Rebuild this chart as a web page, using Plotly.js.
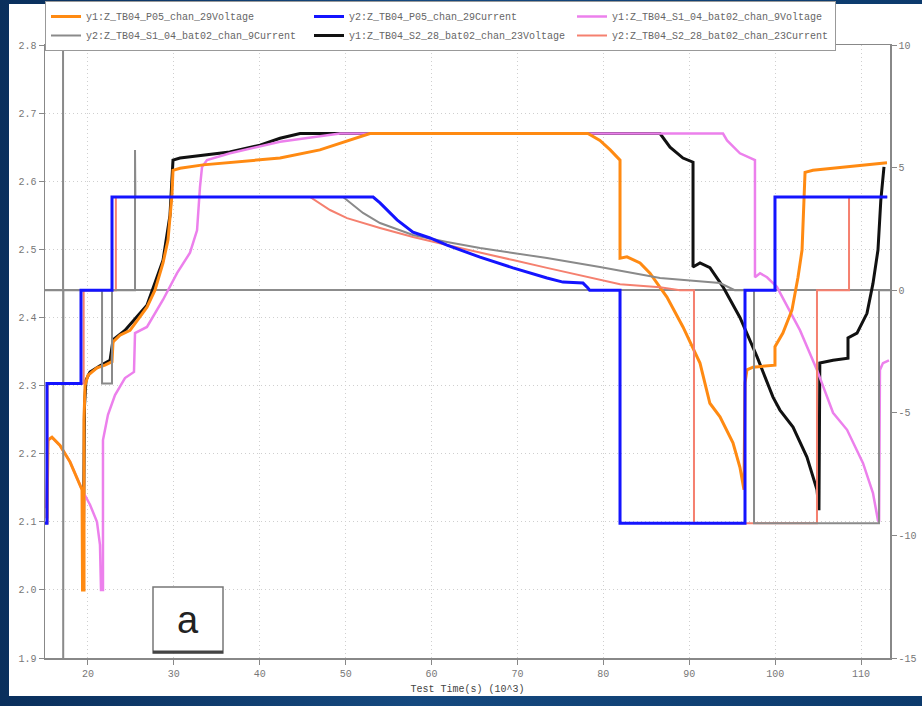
<!DOCTYPE html>
<html>
<head>
<meta charset="utf-8">
<script src="https://cdn.plot.ly/plotly-3.0.1.min.js"></script>
<style>
  html, body { margin: 0; padding: 0; }
  body {
    width: 922px; height: 706px; overflow: hidden;
    background: linear-gradient(90deg, #0a2f5c 0%, #15497f 45%, #0c3a6c 100%);
  }
  #chart { width: 922px; height: 706px; }
</style>
</head>
<body>
<div id="chart"></div>
<script>
// Test time (x10^3 s) and cell voltage (V) / current (A) per channel

// y1: Z_TB04_P05_chan_29 voltage
const p05Time = [15.23, 15.35, 15.81, 16.75, 17.91, 19.31, 19.37, 19.54, 19.54, 19.66, 20.0, 21.05, 21.98, 22.8, 22.92, 23.73, 24.9, 26.87, 27.8, 28.74, 29.32, 29.55, 29.78, 29.9, 30.72, 33.4, 42.36, 47.0, 50.5, 52.83, 78.2, 79.6, 80.8, 81.94, 81.94, 82.75, 84.27, 85.43, 87.4, 89.27, 91.25, 92.4, 93.58, 95.09, 95.9, 96.37, 96.49, 96.72, 97.42, 99.98, 99.98, 100.9, 101.96, 102.66, 103.13, 103.48, 104.4, 113.02];
const p05Voltage = [2.105, 2.22, 2.224, 2.212, 2.188, 2.147, 2.0, 2.0, 2.249, 2.30, 2.315, 2.326, 2.33, 2.335, 2.364, 2.374, 2.381, 2.415, 2.44, 2.48, 2.514, 2.543, 2.58, 2.616, 2.619, 2.624, 2.634, 2.646, 2.66, 2.67, 2.67, 2.66, 2.646, 2.631, 2.487, 2.489, 2.48, 2.465, 2.43, 2.386, 2.333, 2.274, 2.254, 2.216, 2.18, 2.147, 2.304, 2.323, 2.327, 2.33, 2.357, 2.377, 2.411, 2.459, 2.499, 2.613, 2.616, 2.627];

// y2: Z_TB04_P05_chan_29 current
const p05CurTime = [15.0, 15.23, 15.23, 19.19, 19.19, 22.8, 22.8, 53.2, 54.0, 55.98, 57.84, 59.82, 61.8, 65.64, 69.48, 71.46, 73.44, 75.3, 77.63, 78.2, 78.4, 81.94, 81.94, 96.49, 96.49, 99.98, 99.98, 113.05];
const p05Current = [-9.5, -9.5, -3.8, -3.8, 0, 0, 3.8, 3.8, 3.56, 2.87, 2.37, 2.13, 1.84, 1.35, 0.91, 0.70, 0.50, 0.33, 0.29, 0.09, 0, 0, -9.5, -9.5, 0, 0, 3.8, 3.8];

// y1: Z_TB04_S1_04_bat02_chan_9 voltage
const s1Time = [15.15, 15.35, 15.81, 16.75, 17.91, 19.31, 20.24, 21.05, 21.4, 21.52, 21.75, 21.75, 22.33, 23.15, 24.31, 25.36, 25.48, 26.87, 28.74, 30.37, 31.88, 32.7, 33.04, 33.28, 33.86, 36.54, 42.36, 47.0, 49.34, 93.93, 94.4, 95.9, 97.65, 97.65, 98.24, 99.05, 100.2, 102.9, 104.87, 106.74, 108.37, 110.23, 111.39, 111.97, 112.1, 112.2, 112.55, 113.25];
const s1Voltage = [2.12, 2.22, 2.224, 2.212, 2.188, 2.147, 2.125, 2.1, 2.066, 2.0, 2.0, 2.22, 2.257, 2.286, 2.311, 2.32, 2.377, 2.386, 2.426, 2.465, 2.495, 2.528, 2.591, 2.621, 2.631, 2.641, 2.658, 2.666, 2.67, 2.67, 2.66, 2.641, 2.631, 2.459, 2.465, 2.459, 2.445, 2.381, 2.323, 2.26, 2.235, 2.186, 2.142, 2.102, 2.1, 2.323, 2.333, 2.337];

// y2: Z_TB04_S1_04_bat02_chan_9 current
const s1CurTime = [15.0, 17.1, 17.1, 17.12, 17.14, 21.64, 21.64, 22.8, 22.8, 25.48, 25.48, 25.52, 49.7, 52.02, 54.0, 57.84, 61.8, 65.64, 69.48, 73.44, 79.6, 82.75, 86.6, 93.58, 95.3, 97.54, 97.54, 112.09, 112.09, 113.37];
const s1Current = [0, 0, 11, -16, 0, 0, -3.8, -3.8, 0, 0, 5.72, 3.8, 3.8, 3.15, 2.74, 2.25, 1.97, 1.72, 1.52, 1.31, 0.95, 0.75, 0.5, 0.29, 0, 0, -9.5, -9.5, 0, 0];

// y1: Z_TB04_S2_28_bat02_chan_23 voltage
const s2Time = [19.42, 19.5, 19.6, 19.77, 20.24, 21.4, 22.57, 22.92, 24.3, 26.87, 28.74, 29.55, 29.9, 30.72, 33.04, 36.5, 40.03, 42.36, 44.69, 86.6, 87.76, 89.27, 90.44, 90.44, 91.25, 92.41, 93.93, 95.9, 97.9, 99.75, 100.56, 102.08, 103.7, 104.87, 105.1, 105.2, 106.74, 108.48, 108.48, 109.53, 110.69, 111.39, 111.97, 112.3, 112.67];
const s2Voltage = [2.0, 2.15, 2.27, 2.308, 2.32, 2.329, 2.337, 2.367, 2.381, 2.418, 2.484, 2.55, 2.631, 2.634, 2.638, 2.643, 2.653, 2.663, 2.67, 2.67, 2.65, 2.634, 2.628, 2.474, 2.48, 2.473, 2.445, 2.4, 2.342, 2.283, 2.264, 2.239, 2.195, 2.147, 2.117, 2.333, 2.337, 2.34, 2.37, 2.377, 2.406, 2.45, 2.499, 2.572, 2.621];

// y2: Z_TB04_S2_28_bat02_chan_23 current
const s2CurTime = [15.0, 15.3, 15.3, 19.5, 19.5, 23.25, 23.25, 45.85, 48.18, 50.16, 54.0, 57.84, 61.8, 65.64, 69.48, 73.44, 79.6, 81.94, 86.6, 88.9, 90.55, 90.55, 104.87, 104.87, 108.6, 108.6, 113.05];
const s2Current = [-9.5, -9.5, -3.8, -3.8, 0, 0, 3.8, 3.8, 3.27, 2.94, 2.54, 2.17, 1.84, 1.52, 1.23, 0.91, 0.42, 0.24, 0.12, 0, 0, -9.5, -9.5, 0, 0, 3.8, 3.8];

// Axis ticks
const timeTicks = [20, 30, 40, 50, 60, 70, 80, 90, 100, 110];
const voltageTicks = [1.9, 2.0, 2.1, 2.2, 2.3, 2.4, 2.5, 2.6, 2.7, 2.8];
const currentTicks = [-15, -10, -5, 0, 5, 10];

const monoFont = 'Liberation Mono, DejaVu Sans Mono, monospace';

function series(name, x, y, axis, color, width, rank) {
  return {
    type: 'scatter', mode: 'lines', name: name,
    x: x, y: y, yaxis: axis,
    line: { color: color, width: width },
    legendrank: rank, hoverinfo: 'x+y+name'
  };
}

// Drawing order: voltages (black, violet, orange), then currents (salmon, gray, blue)
const traces = [
  series('y1:Z_TB04_S2_28_bat02_chan_23Voltage', s2Time, s2Voltage, 'y', '#111111', 3, 5),
  series('y1:Z_TB04_S1_04_bat02_chan_9Voltage', s1Time, s1Voltage, 'y', '#ec80ec', 2.5, 3),
  series('y1:Z_TB04_P05_chan_29Voltage', p05Time, p05Voltage, 'y', '#ff8a12', 3, 1),
  series('y2:Z_TB04_S2_28_bat02_chan_23Current', s2CurTime, s2Current, 'y2', '#f5806f', 2, 6),
  series('y2:Z_TB04_S1_04_bat02_chan_9Current', s1CurTime, s1Current, 'y2', '#8a8a8a', 2, 4),
  series('y2:Z_TB04_P05_chan_29Current', p05CurTime, p05Current, 'y2', '#1414ff', 3, 2)
];

// Page-pixel helpers for the plot area (45..890 x 45..658)
const px = v => (v - 45) / 845;
const py = v => (658 - v) / 613;

const layout = {
  width: 922, height: 706,
  margin: { l: 45, r: 32, t: 45, b: 48, pad: 0, autoexpand: false },
  paper_bgcolor: 'rgba(0,0,0,0)',
  plot_bgcolor: '#ffffff',
  font: { family: monoFont, size: 10, color: '#777' },
  showlegend: true,
  legend: {
    orientation: 'h', x: 0, xanchor: 'left', y: py(1), yanchor: 'top',
    entrywidth: 218, entrywidthmode: 'pixels',
    bgcolor: '#ffffff', bordercolor: '#999', borderwidth: 1,
    font: { family: monoFont, size: 10, color: '#666' },
    itemwidth: 30
  },
  xaxis: {
    range: [15, 113.37], tickvals: timeTicks, ticktext: timeTicks.map(String),
    showline: true, mirror: true, linecolor: '#888', linewidth: 1.5,
    ticks: 'outside', ticklen: 5, tickcolor: '#888',
    showgrid: true, gridcolor: '#cfcfcf', griddash: '1px,3px', gridwidth: 1,
    zeroline: false,
    tickfont: { family: monoFont, size: 10, color: '#777' },
    title: { text: 'Test Time(s) (10^3)', standoff: 6,
             font: { family: monoFont, size: 10, color: '#444' } }
  },
  yaxis: {
    range: [1.9, 2.8], tickvals: voltageTicks, ticktext: voltageTicks.map(v => v.toFixed(1)),
    showline: true, linecolor: '#888', linewidth: 1.5,
    ticks: 'outside', ticklen: 5, tickcolor: '#888',
    showgrid: true, gridcolor: '#cfcfcf', griddash: '1px,3px', gridwidth: 1,
    zeroline: false,
    tickfont: { family: monoFont, size: 10, color: '#777' }
  },
  yaxis2: {
    range: [-15, 10], tickvals: currentTicks, ticktext: currentTicks.map(String),
    overlaying: 'y', side: 'right',
    showline: true, linecolor: '#888', linewidth: 1.5,
    ticks: 'outside', ticklen: 5, tickcolor: '#888',
    showgrid: false,
    zeroline: true, zerolinecolor: '#8c8c8c', zerolinewidth: 2,
    tickfont: { family: monoFont, size: 10, color: '#777' }
  },
  shapes: [
    // white chart sheet
    { type: 'rect', xref: 'paper', yref: 'paper', layer: 'below',
      x0: px(9), x1: px(922), y0: py(696), y1: py(4),
      fillcolor: '#ffffff', line: { width: 0 } },
    // panel label box
    { type: 'rect', xref: 'paper', yref: 'paper', layer: 'above',
      x0: px(153), x1: px(223), y0: py(653), y1: py(587),
      fillcolor: '#ffffff', line: { color: '#777', width: 1.5 } },
    { type: 'line', xref: 'paper', yref: 'paper', layer: 'above',
      x0: px(153), x1: px(223), y0: py(652), y1: py(652),
      line: { color: '#444', width: 3 } }
  ],
  annotations: [
    { xref: 'paper', yref: 'paper', x: px(188), y: py(620),
      text: 'a', showarrow: false, xanchor: 'center', yanchor: 'middle',
      font: { family: 'Liberation Sans, Arial, sans-serif', size: 38, color: '#222' } }
  ]
};

Plotly.newPlot('chart', traces, layout, { displayModeBar: false, staticPlot: true });
</script>
</body>
</html>
